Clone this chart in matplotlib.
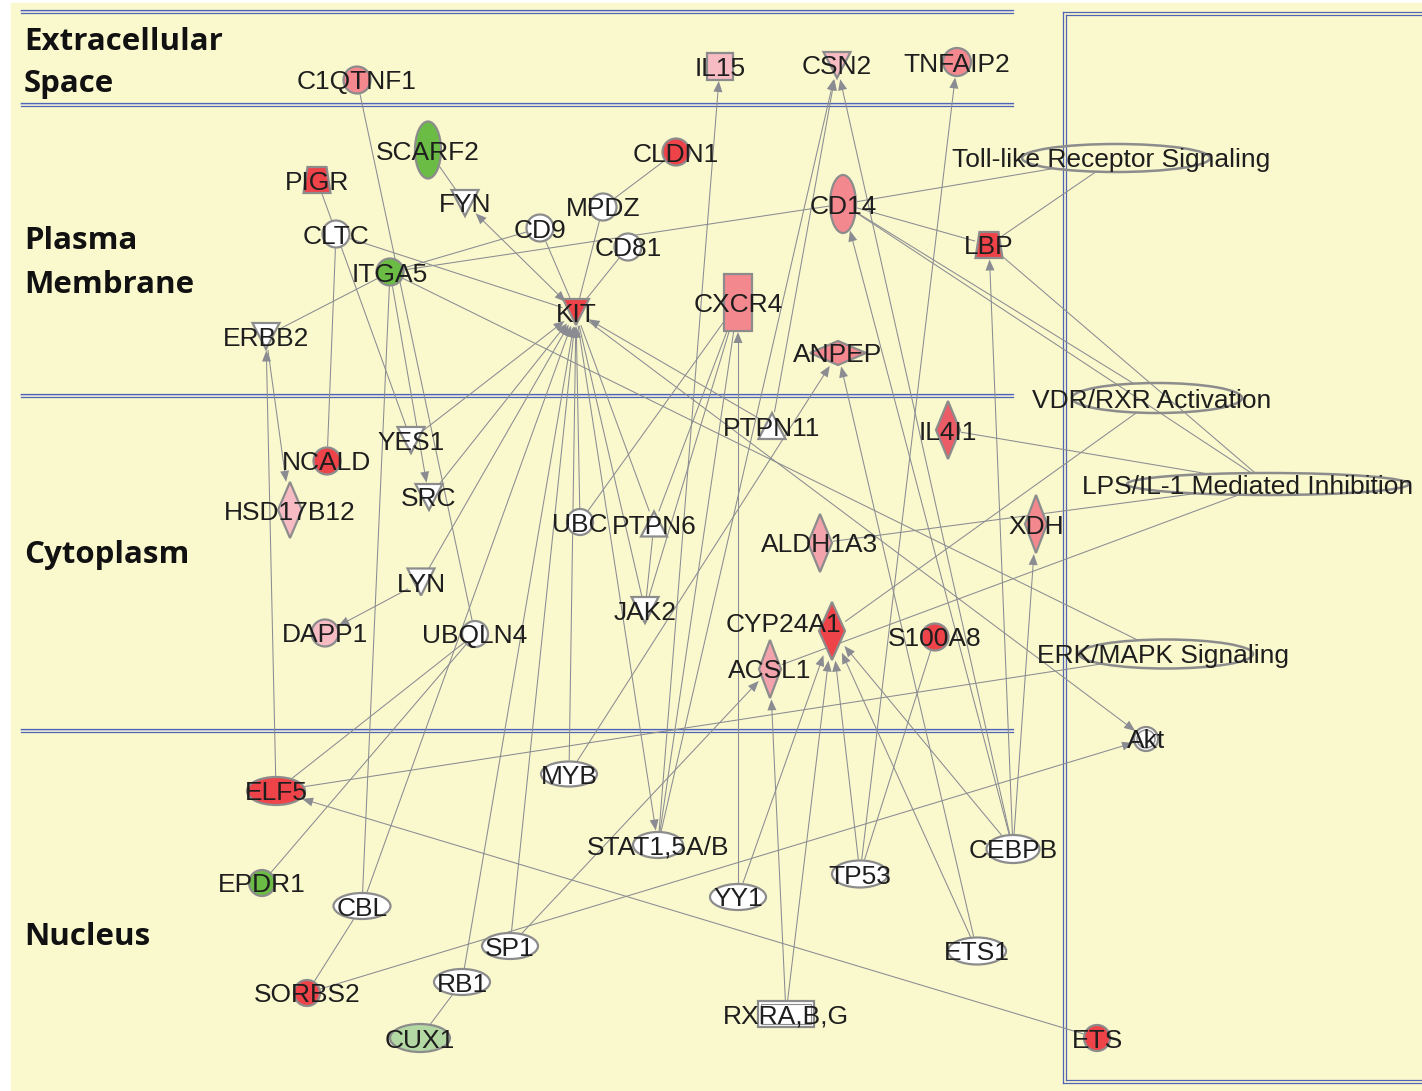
import numpy as np
import matplotlib.pyplot as plt
from matplotlib.patches import Circle, Ellipse, Rectangle, Polygon

# molecules, their type (drawn shape) and expression class
genes = ["C1QTNF1", "IL15", "CSN2", "TNFAIP2",
         "SCARF2", "PIGR", "FYN", "CLTC", "MPDZ", "CLDN1", "CD9", "CD81", "CD14", "LBP",
         "ITGA5", "KIT", "CXCR4", "ERBB2", "ANPEP",
         "PTPN11", "IL4I1", "YES1", "NCALD", "SRC", "HSD17B12", "UBC", "PTPN6", "ALDH1A3",
         "XDH", "LYN", "JAK2", "DAPP1", "UBQLN4", "CYP24A1", "S100A8", "ACSL1",
         "Akt", "MYB", "ELF5", "STAT1,5A/B", "CEBPB", "TP53", "EPDR1", "YY1", "CBL", "SP1",
         "ETS1", "SORBS2", "RB1", "RXRA,B,G", "CUX1", "ETS"]
gene_type = ["circle", "square", "tri_down", "circle",
             "vellipse", "trap", "tri_down", "circle", "circle", "circle", "circle", "circle", "vellipse", "trap",
             "circle", "tri_down", "rect", "tri_down", "hdiamond",
             "tri_up", "diamond", "tri_down", "circle", "tri_down", "diamond", "circle", "tri_up", "diamond",
             "diamond", "tri_down", "tri_down", "circle", "circle", "diamond", "circle", "diamond",
             "dcircle", "ellipse", "ellipse", "ellipse", "ellipse", "ellipse", "circle", "ellipse", "ellipse", "ellipse",
             "ellipse", "circle", "ellipse", "nrect", "ellipse", "circle"]
expression = ["up2", "up1", "up1", "up2",
              "down2", "up3", "none", "none", "none", "up3", "none", "none", "up2", "up3",
              "down2", "up3", "up2", "none", "up2",
              "none", "up2b", "none", "up3", "none", "up1", "none", "none", "up1b",
              "up2", "none", "none", "up1", "none", "up3", "up3", "up1b",
              "none", "none", "up3", "none", "none", "none", "down2", "none", "none", "none",
              "none", "up3", "none", "none", "down1", "up3"]

pathways = ["Toll-like Receptor Signaling", "VDR/RXR Activation",
            "LPS/IL-1 Mediated Inhibition", "ERK/MAPK Signaling"]

# relationships: source, target, arrow ('' none, '>' at target, '<>' both)
edges = [
    ("C1QTNF1", "UBQLN4", ""), ("SCARF2", "FYN", ""), ("FYN", "KIT", "<>"),
    ("CLDN1", "MPDZ", ""), ("MPDZ", "KIT", ""), ("CD9", "KIT", ""), ("CD81", "KIT", ""),
    ("CLTC", "KIT", ""), ("CLTC", "NCALD", ""), ("PIGR", "YES1", ""),
    ("ITGA5", "ERBB2", ""), ("ITGA5", "CD9", ""), ("ITGA5", "CD14", ""), ("ITGA5", "CBL", ""),
    ("ITGA5", "SRC", ">"), ("ITGA5", "ERK/MAPK Signaling", ""),
    ("ERBB2", "HSD17B12", ">"), ("ELF5", "ERBB2", ">"), ("LYN", "DAPP1", ">"),
    ("YES1", "KIT", ">"), ("SRC", "KIT", ">"), ("LYN", "KIT", ">"), ("CBL", "KIT", ">"),
    ("SP1", "KIT", ">"), ("RB1", "KIT", ">"), ("MYB", "KIT", ">"), ("UBC", "KIT", ">"),
    ("PTPN11", "KIT", ">"), ("KIT", "PTPN6", ""), ("KIT", "JAK2", ""), ("PTPN6", "JAK2", ""),
    ("KIT", "STAT1,5A/B", ">"), ("KIT", "Akt", ">"),
    ("ELF5", "UBQLN4", ""), ("EPDR1", "UBQLN4", ""), ("CBL", "SORBS2", ""), ("RB1", "CUX1", ""),
    ("SORBS2", "Akt", ">"), ("SP1", "ACSL1", ">"), ("MYB", "ANPEP", ">"), ("ETS1", "ANPEP", ">"),
    ("STAT1,5A/B", "IL15", ">"), ("STAT1,5A/B", "CSN2", ">"), ("PTPN11", "CSN2", ">"),
    ("STAT1,5A/B", "CXCR4", ""), ("UBC", "CXCR4", ""), ("JAK2", "CXCR4", ""), ("PTPN6", "CXCR4", ""),
    ("YY1", "CXCR4", ">"), ("YY1", "CYP24A1", ">"), ("RXRA,B,G", "CYP24A1", ">"),
    ("RXRA,B,G", "ACSL1", ">"), ("TP53", "CYP24A1", ">"), ("CEBPB", "CYP24A1", ">"),
    ("ETS1", "CYP24A1", ">"), ("TP53", "TNFAIP2", ">"), ("TP53", "S100A8", ""),
    ("CEBPB", "CD14", ">"), ("CEBPB", "LBP", ">"), ("CEBPB", "XDH", ">"), ("CEBPB", "CSN2", ">"),
    ("ETS", "ELF5", ">"), ("ELF5", "ERK/MAPK Signaling", ""),
    ("IL4I1", "LPS/IL-1 Mediated Inhibition", ""), ("CD14", "LPS/IL-1 Mediated Inhibition", ""),
    ("CD14", "VDR/RXR Activation", ""), ("CD14", "Toll-like Receptor Signaling", ""),
    ("CD14", "LBP", ""), ("LBP", "Toll-like Receptor Signaling", ""),
    ("LBP", "LPS/IL-1 Mediated Inhibition", ""), ("ALDH1A3", "LPS/IL-1 Mediated Inhibition", ""),
    ("ACSL1", "LPS/IL-1 Mediated Inhibition", ""), ("CYP24A1", "VDR/RXR Activation", ""),
]

compartments = ["Extracellular\nSpace", "Plasma\nMembrane", "Cytoplasm", "Nucleus"]

# ---- layout (pixel positions of the original drawing) ----
layout = {
    "C1QTNF1": (357, 80, 27, 27), "IL15": (720, 66, 26, 27), "CSN2": (837, 65, 27, 26),
    "TNFAIP2": (957, 62, 28, 28),
    "SCARF2": (428, 150, 26, 57), "PIGR": (317, 180, 27, 26), "FYN": (465, 203, 27, 26),
    "CLTC": (336, 234, 27, 27), "MPDZ": (603, 207, 27, 27), "CLDN1": (676, 152, 27, 27),
    "CD9": (540, 228, 27, 27), "CD81": (628, 247, 27, 27), "CD14": (843, 204, 26, 58),
    "LBP": (989, 245, 27, 26), "ITGA5": (390, 272, 27, 27), "KIT": (576, 312, 26, 26),
    "CXCR4": (738, 302, 28, 57), "ERBB2": (266, 336, 27, 26), "ANPEP": (838, 353, 56, 24),
    "PTPN11": (772, 426, 27, 26), "IL4I1": (948, 430, 24, 58), "YES1": (411, 440, 27, 26),
    "NCALD": (327, 461, 27, 27), "SRC": (429, 497, 27, 26), "HSD17B12": (290, 510, 24, 56),
    "UBC": (580, 522, 26, 26), "PTPN6": (654, 524, 26, 25), "ALDH1A3": (820, 543, 24, 58),
    "XDH": (1036, 524, 22, 58), "LYN": (421, 582, 27, 27), "JAK2": (645, 610, 27, 26),
    "DAPP1": (325, 633, 27, 27), "UBQLN4": (475, 634, 26, 26), "CYP24A1": (832, 631, 26, 58),
    "S100A8": (935, 637, 27, 27), "ACSL1": (770, 669, 22, 58),
    "Akt": (1146, 739, 24, 24), "MYB": (569, 774, 56, 25), "ELF5": (276, 791, 58, 28),
    "STAT1,5A/B": (658, 845, 50, 26), "CEBPB": (1013, 849, 53, 28), "TP53": (860, 874, 56, 27),
    "EPDR1": (262, 883, 26, 26), "YY1": (738, 897, 56, 26), "CBL": (362, 906, 57, 26),
    "SP1": (510, 946, 56, 26), "ETS1": (977, 951, 58, 27), "SORBS2": (307, 993, 26, 26),
    "RB1": (462, 982, 56, 26), "RXRA,B,G": (786, 1014, 56, 26), "CUX1": (420, 1038, 60, 28),
    "ETS": (1097, 1038, 26, 26),
}
label_shift = {"CYP24A1": (-49, -9)}
path_layout = {
    "Toll-like Receptor Signaling": (1116, 158, 188, 28, 1111),
    "VDR/RXR Activation": (1157, 398, 170, 30, 1152),
    "LPS/IL-1 Mediated Inhibition": (1268, 484, 282, 22, 1248),
    "ERK/MAPK Signaling": (1166, 654, 174, 29, 1163),
}
comp_label_y = [(50, 92), (249, 293), (563,), (945,)]

colors = {"up3": "#EE4349", "up2": "#F3888F", "up2b": "#EA5C66", "up1": "#F7BCC3",
          "up1b": "#F3A3AB", "down2": "#6BBC45", "down1": "#B3D8A3", "none": "#FFFFFF"}
bg = "#FAF8CD"
edge_c = "#8A8C92"
line_blue = "#4F64B4"
label_size = 19

fig = plt.figure(figsize=(14.22, 10.91), dpi=100)
ax = fig.add_axes([0, 0, 1, 1])
ax.set_xlim(0, 1422)
ax.set_ylim(1091, 0)
ax.axis("off")
ax.add_patch(Rectangle((11, 3), 1420, 1100, color=bg, zorder=0))

# compartment separators (double lines)
for y in [11, 104, 395, 730]:
    ax.plot([21, 1013], [y - 1.5, y - 1.5], color=line_blue, lw=0.9, zorder=0.5)
    ax.plot([21, 1013], [y + 1.5, y + 1.5], color=line_blue, lw=0.9, zorder=0.5)
    ax.plot([21, 1013], [y, y], color="#C8CCE6", lw=1.2, zorder=0.4)
for d in [0, 3]:
    ax.plot([1063 + d, 1063 + d], [12 + d, 1083 - d], color=line_blue, lw=0.9, zorder=0.5)
    ax.plot([1063 + d, 1425], [1083 - d, 1083 - d], color=line_blue, lw=0.9, zorder=0.5)
    ax.plot([1063 + d, 1425], [12 + d, 12 + d], color=line_blue, lw=0.9, zorder=0.5)

for txt, ys in zip(compartments, comp_label_y):
    for line, y in zip(txt.split("\n"), ys):
        ax.text(24, y, line, fontsize=22.5, fontweight="bold", family="Open Sans",
                ha="left", va="baseline", color="#111111", zorder=5)

# geometry lookup for every node (genes and pathways)
geom = {}
for g in genes:
    x, y, w, h = layout[g]
    geom[g] = (x, y, w / 2, h / 2)
for p in pathways:
    x, y, w, h, _ = path_layout[p]
    geom[p] = (x, y, w / 2, h / 2)


def border(a, b, gap=1.5):
    xa, ya, ra, rb = geom[a]
    xb, yb = geom[b][:2]
    dx, dy = xb - xa, yb - ya
    t = 1 / np.hypot(dx / ra, dy / rb)
    L = np.hypot(dx, dy)
    return np.array([xa + dx * t + dx / L * gap, ya + dy * t + dy / L * gap])


def arrow_head(tip, tail, ln=11, wd=4.5):
    v = tip - tail
    v = v / np.linalg.norm(v)
    n = np.array([-v[1], v[0]])
    base = tip - v * ln
    ax.add_patch(Polygon([tip, base + n * wd, base - n * wd], closed=True,
                         color=edge_c, lw=0, zorder=2))
    return base


for a, b, kind in edges:
    p0 = border(a, b)
    p1 = border(b, a)
    q0, q1 = p0, p1
    if ">" in kind:
        q1 = arrow_head(p1, p0)
    if "<" in kind:
        q0 = arrow_head(p0, p1)
    ax.plot([q0[0], q1[0]], [q0[1], q1[1]], color=edge_c, lw=0.75, zorder=1)

# nodes
oc = "#8C8C8C"
for g, typ, ex in zip(genes, gene_type, expression):
    x, y, w, h = layout[g]
    fc = colors[ex]
    kw = dict(facecolor=fc, edgecolor=oc, lw=1.6, zorder=3)
    if typ == "circle":
        ax.add_patch(Circle((x, y), w / 2, **kw))
    elif typ == "dcircle":
        ax.add_patch(Circle((x, y), w / 2, **kw))
        ax.add_patch(Circle((x, y), w / 2 - 3, facecolor="none", edgecolor=oc, lw=1.0, zorder=3))
    elif typ in ("ellipse", "vellipse"):
        ax.add_patch(Ellipse((x, y), w, h, **kw))
    elif typ in ("square", "rect", "nrect"):
        ax.add_patch(Rectangle((x - w / 2, y - h / 2), w, h, **kw))
        if typ == "nrect":
            ax.add_patch(Rectangle((x - w / 2 + 3, y - h / 2 + 3), w - 6, h - 6,
                                   facecolor="none", edgecolor=oc, lw=0.8, zorder=3))
    elif typ == "trap":
        ax.add_patch(Polygon([(x - w / 2 + 4, y - h / 2), (x + w / 2 - 4, y - h / 2),
                              (x + w / 2, y + h / 2), (x - w / 2, y + h / 2)], closed=True, **kw))
    elif typ == "tri_down":
        ax.add_patch(Polygon([(x - w / 2, y - h / 2), (x + w / 2, y - h / 2), (x, y + h / 2)],
                             closed=True, **kw))
    elif typ == "tri_up":
        ax.add_patch(Polygon([(x - w / 2, y + h / 2), (x + w / 2, y + h / 2), (x, y - h / 2)],
                             closed=True, **kw))
    elif typ in ("diamond", "hdiamond"):
        ax.add_patch(Polygon([(x, y - h / 2), (x + w / 2, y), (x, y + h / 2), (x - w / 2, y)],
                             closed=True, **kw))
    sx, sy = label_shift.get(g, (0, 0))
    ax.text(x + sx, y + sy + 9.5, g, fontsize=label_size, family="Liberation Sans", ha="center",
            va="baseline", color="#1E1E1E", zorder=4)

for p in pathways:
    x, y, w, h, tx = path_layout[p]
    ax.add_patch(Ellipse((x, y), w, h, facecolor="none", edgecolor="#8C8C8C", lw=1.8, zorder=3))
    ax.text(tx, y + 9.5, p, fontsize=label_size, family="Liberation Sans", ha="center",
            va="baseline", color="#1E1E1E", zorder=4)

fig.savefig("out.png", dpi=100, facecolor="white")
